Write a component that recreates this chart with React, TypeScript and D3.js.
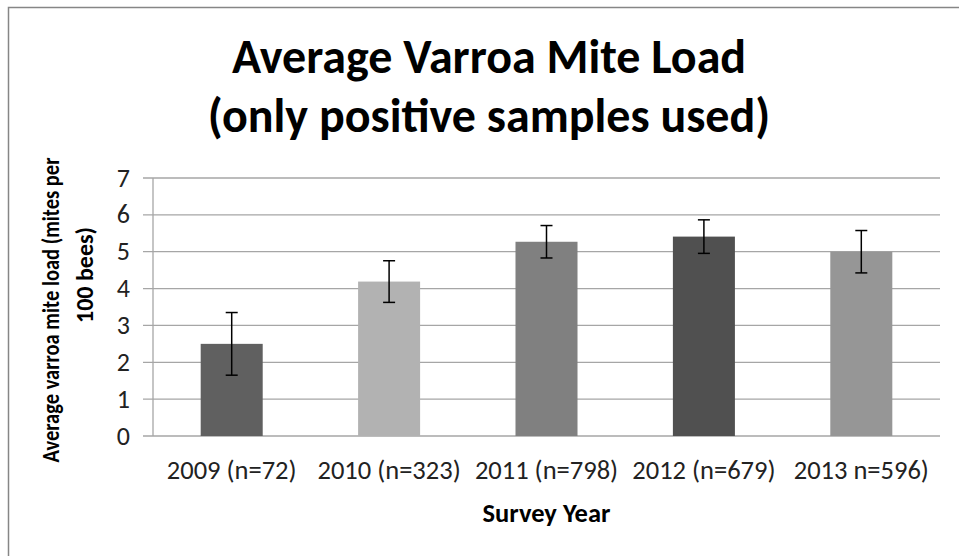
import { useRef, useEffect } from 'react';
import * as d3 from 'd3';

const years = ['2009 (n=72)', '2010 (n=323)', '2011 (n=798)', '2012 (n=679)', '2013 n=596)'];
const meanLoad = [2.5, 4.19, 5.27, 5.41, 5.0];
const errLoad = [0.85, 0.565, 0.44, 0.455, 0.575];
const barColors = ['#606060', '#b2b2b2', '#808080', '#505050', '#969696'];
const yTicks = [0, 1, 2, 3, 4, 5, 6, 7];
const titleLines = ['Average Varroa Mite Load', '(only positive samples used)'];
const yLabelLines = ['Average varroa mite load (mites per', '100 bees)'];

const FONT = "Carlito, Calibri, 'Liberation Sans Narrow', 'Open Sans', sans-serif";

export default function App() {
  const ref = useRef<SVGSVGElement>(null);

  useEffect(() => {
    const width = 959;
    const height = 556;
    const margin = { top: 178, right: 19, bottom: 120, left: 153 };

    const svg = d3.select(ref.current);
    svg.selectAll('*').remove();

    svg.append('rect').attr('width', width).attr('height', height).attr('fill', 'white');

    // outer chart frame (runs off the right and bottom of the picture)
    svg
      .append('rect')
      .attr('x', 8.5)
      .attr('y', 7.5)
      .attr('width', 1000)
      .attr('height', 600)
      .attr('fill', 'none')
      .attr('stroke', '#868686')
      .attr('stroke-width', 1.5);

    const x = d3
      .scaleBand()
      .domain(years)
      .range([margin.left, width - margin.right])
      .paddingInner(0.606)
      .paddingOuter(0.303);

    const y = d3
      .scaleLinear()
      .domain([0, 7])
      .range([height - margin.bottom, margin.top]);

    // gridlines (they also make the little ticks left of the axis)
    svg
      .append('g')
      .selectAll('line')
      .data(yTicks)
      .join('line')
      .attr('x1', margin.left - 10)
      .attr('x2', width - margin.right)
      .attr('y1', (d) => y(d))
      .attr('y2', (d) => y(d))
      .attr('stroke', '#a6a6a6')
      .attr('stroke-width', 1.3);

    svg
      .append('line')
      .attr('x1', margin.left)
      .attr('x2', margin.left)
      .attr('y1', y(7))
      .attr('y2', y(0))
      .attr('stroke', '#a6a6a6')
      .attr('stroke-width', 1.3);

    svg
      .append('g')
      .selectAll('text')
      .data(yTicks)
      .join('text')
      .attr('x', 130)
      .attr('y', (d) => y(d))
      .attr('dy', '0.33em')
      .attr('text-anchor', 'end')
      .style('font-family', FONT)
      .style('font-size', '26px')
      .attr('fill', '#222')
      .text((d) => d);

    // bars
    svg
      .append('g')
      .selectAll('rect')
      .data(years)
      .join('rect')
      .attr('x', (d) => x(d)!)
      .attr('y', (_, i) => y(meanLoad[i]))
      .attr('width', x.bandwidth())
      .attr('height', (_, i) => y(0) - y(meanLoad[i]))
      .attr('fill', (_, i) => barColors[i]);

    // error bars
    const eb = svg
      .append('g')
      .attr('stroke', '#000')
      .attr('stroke-width', 1.5)
      .selectAll('g')
      .data(years)
      .join('g')
      .attr('transform', (d) => `translate(${x(d)! + x.bandwidth() / 2},0)`);
    eb.append('line')
      .attr('y1', (_, i) => y(meanLoad[i] + errLoad[i]))
      .attr('y2', (_, i) => y(meanLoad[i] - errLoad[i]));
    eb.append('line')
      .attr('x1', -6)
      .attr('x2', 6)
      .attr('y1', (_, i) => y(meanLoad[i] + errLoad[i]))
      .attr('y2', (_, i) => y(meanLoad[i] + errLoad[i]));
    eb.append('line')
      .attr('x1', -6)
      .attr('x2', 6)
      .attr('y1', (_, i) => y(meanLoad[i] - errLoad[i]))
      .attr('y2', (_, i) => y(meanLoad[i] - errLoad[i]));

    // x category labels
    svg
      .append('g')
      .selectAll('text')
      .data(years)
      .join('text')
      .attr('x', (d) => x(d)! + x.bandwidth() / 2)
      .attr('y', 479)
      .attr('text-anchor', 'middle')
      .style('font-family', FONT)
      .style('font-size', '26.5px')
      .attr('fill', '#222')
      .text((d) => d);

    svg
      .append('text')
      .attr('x', (margin.left + width - margin.right) / 2)
      .attr('y', 522)
      .attr('text-anchor', 'middle')
      .style('font-family', FONT)
      .style('font-size', '26.5px')
      .style('font-weight', 'bold')
      .text('Survey Year');

    // y axis title, two lines
    const yl = [
      { x: 59, y: 310, len: 305 },
      { x: 93, y: 275, len: 0 },
    ];
    svg
      .append('g')
      .selectAll('text')
      .data(yLabelLines)
      .join('text')
      .attr('transform', (_, i) => `translate(${yl[i].x},${yl[i].y}) rotate(-90)`)
      .attr('text-anchor', 'middle')
      .attr('textLength', (_, i) => (yl[i].len ? yl[i].len : null))
      .attr('lengthAdjust', 'spacingAndGlyphs')
      .style('font-family', FONT)
      .style('font-size', '24px')
      .style('font-weight', 'bold')
      .text((d) => d);

    // chart title
    svg
      .append('g')
      .selectAll('text')
      .data(titleLines)
      .join('text')
      .attr('x', 489)
      .attr('y', (_, i) => 73 + i * 59)
      .attr('text-anchor', 'middle')
      .style('font-family', FONT)
      .style('font-size', '48px')
      .style('font-weight', 'bold')
      .text((d) => d);
  }, []);

  return (
    <svg
      ref={ref}
      width={959}
      height={556}
      style={{ position: 'absolute', left: 0, top: 0, display: 'block' }}
    />
  );
}
